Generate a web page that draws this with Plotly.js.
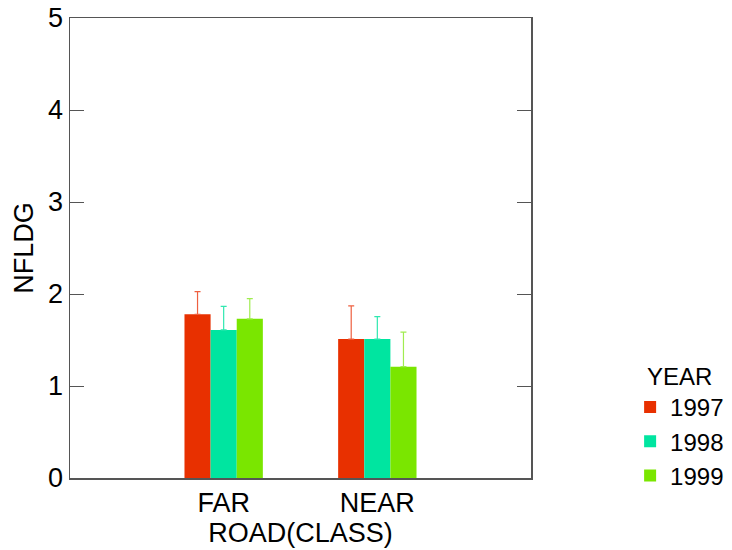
<!DOCTYPE html>
<html>
<head>
<meta charset="utf-8">
<script src="https://cdn.plot.ly/plotly-3.0.1.min.js"></script>
<style>html,body{margin:0;padding:0;background:#fff;}#chart{width:732px;height:550px;}</style>
</head>
<body>
<div id="chart"></div>
<script>
const categories = ['FAR', 'NEAR'];
const years = ['1997', '1998', '1999'];
const values1997 = [1.78, 1.51];
const values1998 = [1.61, 1.51];
const values1999 = [1.73, 1.21];
const err1997 = [0.245, 0.36];
const err1998 = [0.255, 0.245];
const err1999 = [0.22, 0.375];
const colors = ['#E83000', '#00E5A0', '#7AE600'];
const errColors = ['#EE6040', '#30E8B0', '#A0EC50'];

const vals = [values1997, values1998, values1999];
const errs = [err1997, err1998, err1999];
const font = {family: 'Liberation Sans, Arial, sans-serif', size: 27, color: '#000'};
const legFont = {family: 'Liberation Sans, Arial, sans-serif', size: 24, color: '#000'};

const traces = years.map((y, i) => ({
  type: 'bar',
  name: y,
  x: categories,
  y: vals[i],
  marker: {color: colors[i], line: {width: 0}},
  error_y: {type: 'data', array: errs[i], symmetric: false, arrayminus: [0, 0], visible: true, color: errColors[i], thickness: 1.2, width: 3}
}));

const layout = {
  width: 732, height: 550,
  margin: {l: 70, r: 201, t: 18, b: 72, autoexpand: false},
  paper_bgcolor: '#fff', plot_bgcolor: '#fff',
  font: font,
  barmode: 'group', bargap: 0.49, bargroupgap: 0,
  showlegend: true,
  legend: {
    x: 1.215, xanchor: 'left', y: 0.27, yanchor: 'top',
    font: legFont,
    title: {text: 'YEAR', font: legFont, side: 'top center'},
    tracegroupgap: 0
  },
  xaxis: {
    range: [-1, 2], showgrid: false, zeroline: false,
    showline: true, mirror: true, linecolor: '#555', linewidth: 1.5,
    ticks: '', tickfont: font,
    title: {text: 'ROAD(CLASS)', font: font, standoff: 2}
  },
  yaxis: {
    range: [0, 5], dtick: 1, showgrid: false, zeroline: false,
    showline: true, mirror: 'ticks', linecolor: '#555', linewidth: 1.5,
    ticks: 'inside', ticklen: 14, tickwidth: 1, tickcolor: '#555',
    tickfont: font,
    title: {text: 'NFLDG', font: font, standoff: 6}
  }
};

Plotly.newPlot('chart', traces, layout, {displayModeBar: false, staticPlot: true});
</script>
</body>
</html>
